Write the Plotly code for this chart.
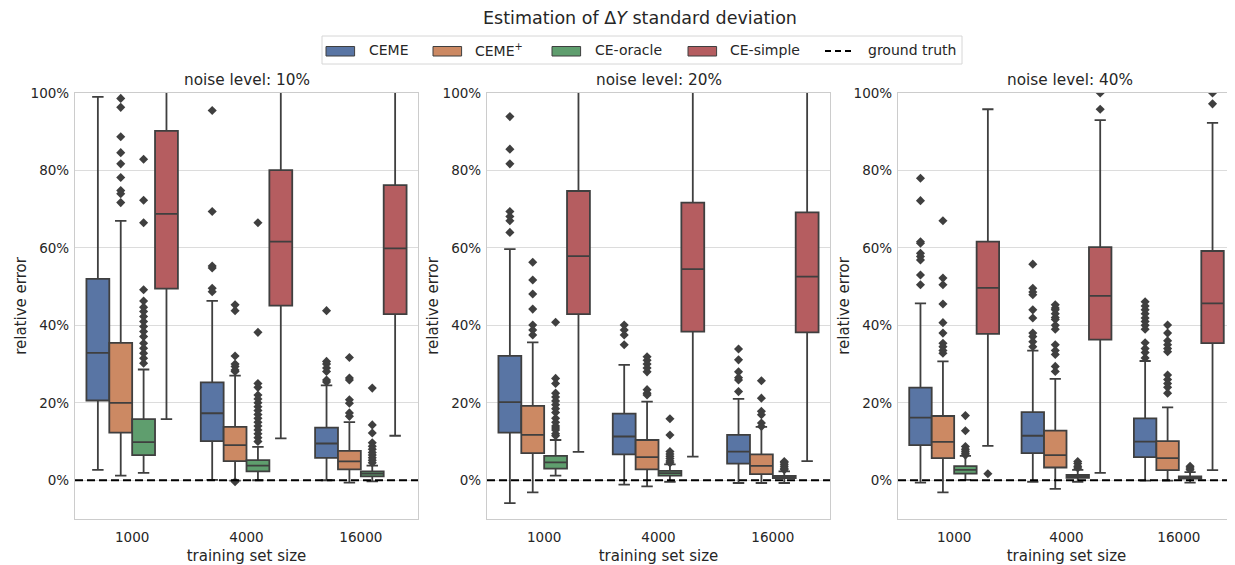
import plotly.graph_objects as go

sizes = ["1000", "4000", "16000"]
noise_levels = ["10%", "20%", "40%"]
methods = ["CEME", "CEME<sup>+</sup>", "CE-oracle", "CE-simple"]
colors = ["#5975a4", "#cc8963", "#5f9e6e", "#b55d60"]

# per method: [panel][size]
CEME_q1 = [[0.206, 0.101, 0.058], [0.123, 0.067, 0.043], [0.091, 0.070, 0.060]]
CEME_med = [[0.329, 0.173, 0.095], [0.202, 0.113, 0.074], [0.162, 0.115, 0.100]]
CEME_q3 = [[0.52, 0.253, 0.136], [0.321, 0.172, 0.117], [0.239, 0.176, 0.160]]
CEME_lo = [[0.027, 0.001, 0.0], [-0.059, -0.011, -0.007], [-0.006, -0.004, -0.001]]
CEME_hi = [[0.99, 0.463, 0.245], [0.597, 0.298, 0.21], [0.457, 0.335, 0.308]]
CEME_out = [
    [[], [0.955, 0.694, 0.553, 0.548, 0.496, 0.487], [0.438, 0.307, 0.30, 0.29, 0.281, 0.259, 0.254]],
    [[0.939, 0.855, 0.817, 0.694, 0.681, 0.670, 0.640], [0.401, 0.388, 0.375, 0.35], [0.339, 0.311, 0.28, 0.265, 0.259, 0.229]],
    [[0.780, 0.722, 0.616, 0.612, 0.586, 0.578, 0.569, 0.530, 0.505],
     [0.558, 0.496, 0.486, 0.479, 0.44, 0.419, 0.38, 0.371, 0.358, 0.345],
     [0.461, 0.45, 0.44, 0.43, 0.419, 0.41, 0.40, 0.39, 0.355, 0.34, 0.33, 0.316]],
]

CEMEp_q1 = [[0.123, 0.0495, 0.028], [0.070, 0.028, 0.016], [0.057, 0.033, 0.026]]
CEMEp_med = [[0.20, 0.091, 0.0486], [0.117, 0.060, 0.037], [0.099, 0.065, 0.057]]
CEMEp_q3 = [[0.355, 0.138, 0.076], [0.192, 0.104, 0.067], [0.166, 0.128, 0.101]]
CEMEp_lo = [[0.012, -0.001, -0.006], [-0.031, -0.016, -0.007], [-0.031, -0.022, -0.001]]
CEMEp_hi = [[0.67, 0.27, 0.15], [0.356, 0.203, 0.138], [0.307, 0.262, 0.188]]
CEMEp_out = [
    [[0.986, 0.963, 0.887, 0.846, 0.817, 0.782, 0.748, 0.740, 0.717],
     [0.453, 0.438, 0.321, 0.30, 0.294, 0.285, 0.281, -0.004],
     [0.317, 0.264, 0.259, 0.208, 0.199, 0.174, 0.165]],
    [[0.563, 0.517, 0.481, 0.442, 0.401, 0.388, 0.375],
     [0.319, 0.31, 0.30, 0.29, 0.28, 0.234, 0.225, 0.22],
     [0.257, 0.212, 0.178, 0.169, 0.148, 0.139]],
    [[0.670, 0.522, 0.505, 0.455, 0.407, 0.38, 0.354, 0.345, 0.335, 0.328],
     [0.453, 0.445, 0.44, 0.43, 0.42, 0.415, 0.40, 0.39, 0.35, 0.335, 0.325, 0.294, 0.281],
     [0.401, 0.38, 0.36, 0.35, 0.34, 0.332, 0.272, 0.26, 0.25, 0.24, 0.225]],
]

CEo_q1 = [[0.065, 0.023, 0.010], [0.030, 0.012, 0.0057], [0.017, 0.0065, 0.004]]
CEo_med = [[0.0986, 0.038, 0.017], [0.046, 0.0186, 0.009], [0.027, 0.0105, 0.0075]]
CEo_q3 = [[0.158, 0.052, 0.023], [0.063, 0.0245, 0.0115], [0.0366, 0.014, 0.0098]]
CEo_lo = [[0.019, 0.0, -0.003], [0.012, -0.004, -0.007], [0.001, -0.004, -0.006]]
CEo_hi = [[0.286, 0.086, 0.038], [0.104, 0.041, 0.023], [0.063, 0.027, 0.021]]
CEo_out = [
    [[0.829, 0.723, 0.665, 0.492, 0.463, 0.447, 0.436, 0.423, 0.41, 0.397, 0.384, 0.371, 0.354, 0.341, 0.328, 0.315, 0.302],
     [0.665, 0.382, 0.25, 0.24, 0.22, 0.21, 0.20, 0.19, 0.18, 0.17, 0.16, 0.15, 0.14, 0.13, 0.12, 0.11, 0.10],
     [0.238, 0.143, 0.122, 0.097, 0.088, 0.08, 0.072, 0.065, 0.058, 0.052, 0.045]],
    [[0.408, 0.263, 0.25, 0.225, 0.215, 0.205, 0.195, 0.185, 0.175, 0.16, 0.15, 0.14, 0.135, 0.13, 0.12, 0.115],
     [0.159, 0.117, 0.074, 0.068, 0.062, 0.056, 0.05, 0.045],
     [0.0485, 0.045, 0.04, 0.035, 0.03, 0.027]],
    [[0.167, 0.128, 0.087, 0.08, 0.075, 0.07, 0.065],
     [0.0485, 0.043, 0.036, 0.032],
     [0.036, 0.032, 0.027]],
]

CEs_q1 = [[0.495, 0.451, 0.429], [0.429, 0.384, 0.382], [0.378, 0.363, 0.354]]
CEs_med = [[0.688, 0.616, 0.599], [0.579, 0.545, 0.526], [0.497, 0.476, 0.457]]
CEs_q3 = [[0.902, 0.801, 0.762], [0.747, 0.717, 0.692], [0.616, 0.602, 0.592]]
CEs_lo = [[0.158, 0.108, 0.115], [0.0735, 0.061, 0.0495], [0.089, 0.019, 0.026]]
CEs_hi = [[1.3, 1.25, 1.25], [1.25, 1.25, 1.25], [0.958, 0.93, 0.923]]
CEs_out = [
    [[], [], []],
    [[], [], []],
    [[0.017], [0.958, 1.0], [0.972, 1.0]],
]

stats = [
    (CEME_q1, CEME_med, CEME_q3, CEME_lo, CEME_hi, CEME_out),
    (CEMEp_q1, CEMEp_med, CEMEp_q3, CEMEp_lo, CEMEp_hi, CEMEp_out),
    (CEo_q1, CEo_med, CEo_q3, CEo_lo, CEo_hi, CEo_out),
    (CEs_q1, CEs_med, CEs_q3, CEs_lo, CEs_hi, CEs_out),
]
offsets = [-0.3, -0.1, 0.1, 0.3]

# the page body adds an 8px margin; figure coords = page coords - 8
OFF = 8
W, H = 1235 - OFF, 565 - OFF
dom_page = [(75, 418), (487, 830), (898, 1235)]
top_f, bot_f = 93 - OFF, 519 - OFF


def px_x(page_x):
    return (page_x - OFF) / W


def px_y(page_y):
    return (bot_f - (page_y - OFF)) / (bot_f - top_f)


fig = go.Figure()
line_col = "#3f3f3f"
for p in range(3):
    xa = "x" if p == 0 else f"x{p+1}"
    ya = "y" if p == 0 else f"y{p+1}"
    for m in range(4):
        q1, med, q3, lo, hi, out = stats[m]
        xs = [i + offsets[m] for i in range(3)]
        fig.add_trace(go.Box(
            x=xs, q1=q1[p], median=med[p], q3=q3[p], lowerfence=lo[p], upperfence=hi[p],
            width=0.2, whiskerwidth=0.5, fillcolor=colors[m],
            line=dict(color=line_col, width=1.8),
            name=methods[m], legendgroup=methods[m], showlegend=False,
            boxpoints=False, hoverinfo="skip", xaxis=xa, yaxis=ya,
        ))
        ox, oy = [], []
        for i in range(3):
            for v in out[p][i]:
                ox.append(i + offsets[m])
                oy.append(v)
        if ox:
            fig.add_trace(go.Scatter(
                x=ox, y=oy, mode="markers",
                marker=dict(symbol="diamond", size=7, color=line_col),
                showlegend=False, hoverinfo="skip", xaxis=xa, yaxis=ya,
            ))
    fig.add_trace(go.Scatter(
        x=[-0.5, 2.5], y=[0, 0], mode="lines",
        line=dict(color="black", width=1.8, dash="8px,4px"),
        name="ground truth", showlegend=False,
        hoverinfo="skip", xaxis=xa, yaxis=ya,
    ))

font_col = "#262626"
axis_common = dict(showline=True, linecolor="#cccccc", linewidth=1.2, mirror=True,
                   zeroline=False, ticks="", automargin=False,
                   tickfont=dict(size=13.5, color=font_col))
layout = dict(
    width=W, height=H, plot_bgcolor="white", paper_bgcolor="white",
    font=dict(family="DejaVu Sans", color=font_col),
    margin=dict(l=0, r=0, t=top_f, b=H - bot_f, autoexpand=False),
    title=dict(text="Estimation of Δ<i>Y</i> standard deviation", x=px_x(640), xanchor="center",
               y=1 - (18 - OFF) / H, yref="container", yanchor="middle",
               font=dict(size=17.5, color=font_col)),
    showlegend=False,
)
annotations = []
shapes = []
for p in range(3):
    xk = "xaxis" if p == 0 else f"xaxis{p+1}"
    yk = "yaxis" if p == 0 else f"yaxis{p+1}"
    d0, d1 = dom_page[p]
    layout[xk] = dict(axis_common, domain=[px_x(d0), min(px_x(d1), 1.0)], range=[-0.5, 2.5],
                      tickvals=[0, 1, 2], ticktext=sizes, showgrid=False, ticklabelstandoff=6,
                      title=dict(text="training set size", font=dict(size=15, color=font_col), standoff=8),
                      anchor="y" if p == 0 else f"y{p+1}")
    layout[yk] = dict(axis_common, range=[-0.1, 1.0], tickvals=[0, 0.2, 0.4, 0.6, 0.8, 1.0],
                      tickformat=".0%", showgrid=True, gridcolor="#dcdcdc", gridwidth=1.2,
                      ticklabelstandoff=2,
                      title=dict(text="relative error", font=dict(size=15, color=font_col), standoff=0),
                      anchor="x" if p == 0 else f"x{p+1}")
    annotations.append(dict(text=f"noise level: {noise_levels[p]}", x=px_x((d0 + d1) / 2 if p < 2 else 1070),
                            xref="paper", y=px_y(80), yref="paper",
                            xanchor="center", yanchor="middle", showarrow=False,
                            font=dict(size=15.3, color=font_col)))

# legend (drawn manually to match patch shapes and spacing)
leg_labels = methods + ["ground truth"]
leg_patch_x = [326, 433, 552, 688, 825]
leg_text_x = [367, 473, 593, 728, 866]
shapes.append(dict(type="rect", xref="paper", yref="paper",
                   x0=px_x(322), x1=px_x(962), y0=px_y(64), y1=px_y(36),
                   line=dict(color="#d6d6d6", width=1), fillcolor="rgba(255,255,255,0.8)", layer="above"))
for k, lab in enumerate(leg_labels):
    if k < 4:
        shapes.append(dict(type="rect", xref="paper", yref="paper",
                           x0=px_x(leg_patch_x[k]), x1=px_x(leg_patch_x[k] + 28.6),
                           y0=px_y(56), y1=px_y(46.5),
                           line=dict(color=line_col, width=1), fillcolor=colors[k], layer="above"))
    else:
        shapes.append(dict(type="line", xref="paper", yref="paper",
                           x0=px_x(leg_patch_x[k]), x1=px_x(leg_patch_x[k] + 28.6),
                           y0=px_y(51), y1=px_y(51),
                           line=dict(color="black", width=2, dash="6px,4px"), layer="above"))
    annotations.append(dict(text=lab, x=px_x(leg_text_x[k]), xref="paper", y=px_y(50.5), yref="paper",
                            xanchor="left", yanchor="middle", showarrow=False,
                            font=dict(size=14, color=font_col)))

layout["annotations"] = annotations
layout["shapes"] = shapes
fig.update_layout(**layout)
fig.write_html("out.html")
